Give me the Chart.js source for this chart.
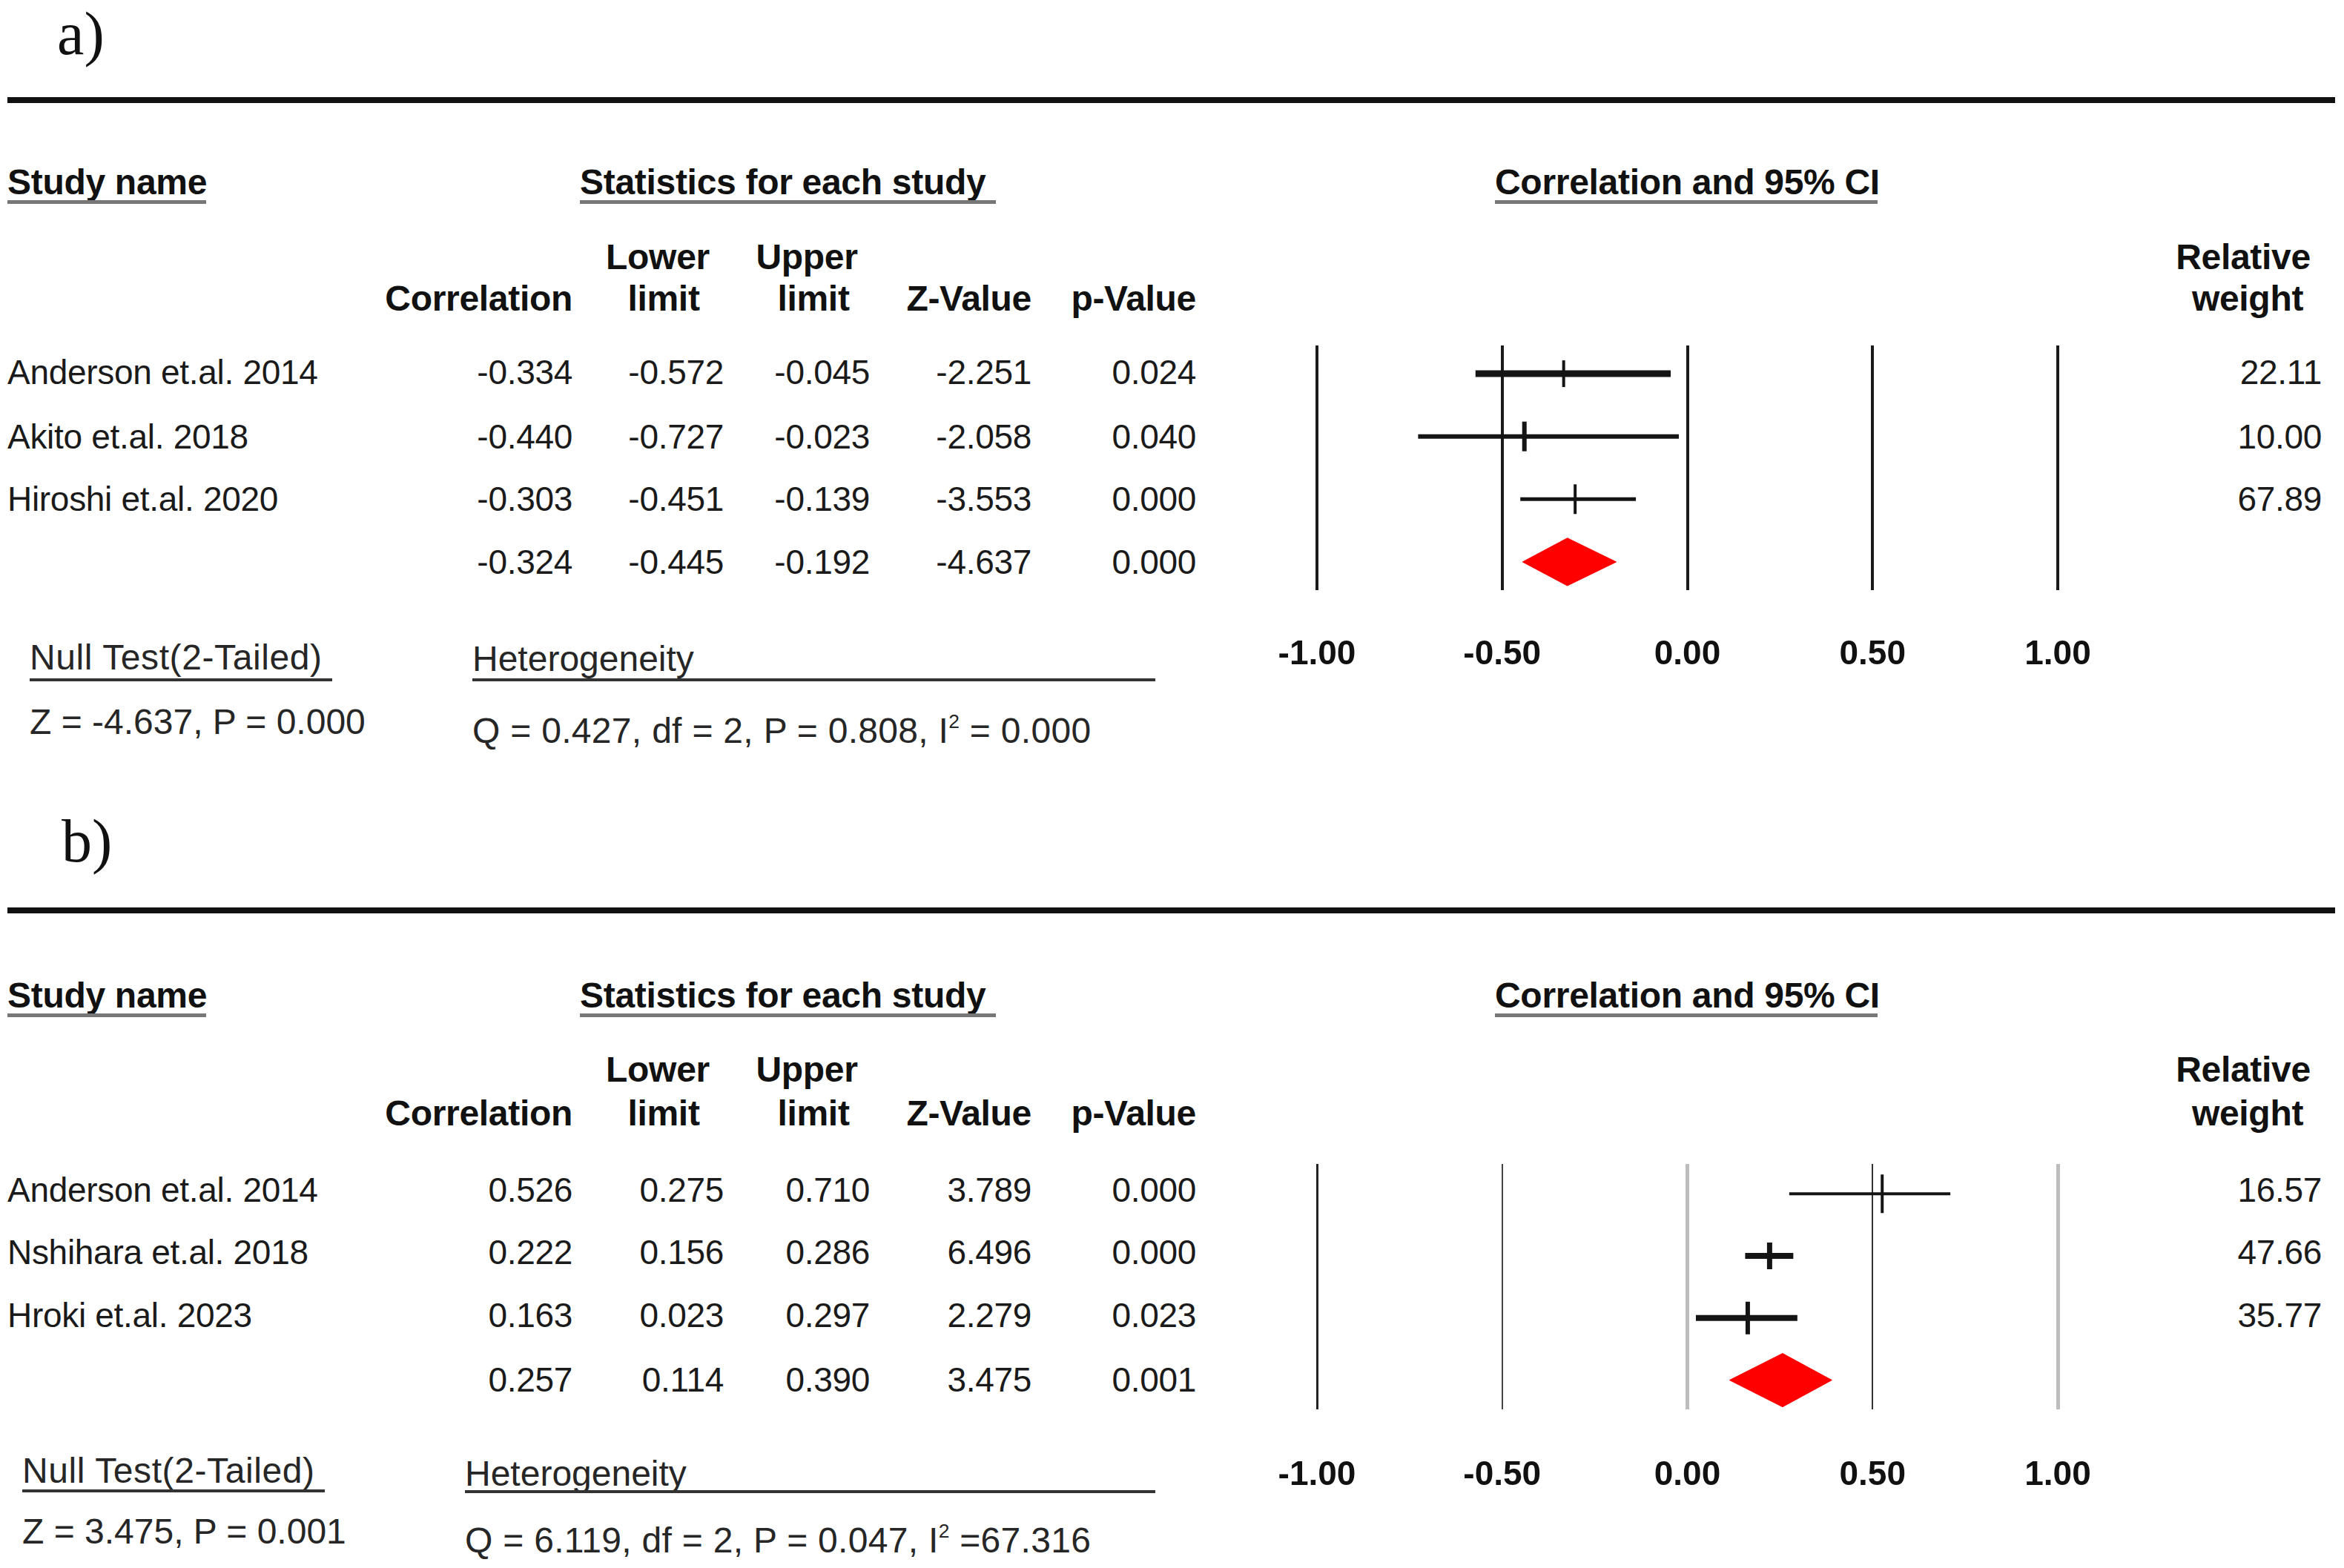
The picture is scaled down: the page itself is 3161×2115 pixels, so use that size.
<!DOCTYPE html>
<html>
<head>
<meta charset="utf-8">
<script src="https://cdn.jsdelivr.net/npm/chart.js@4.4.1/dist/chart.umd.min.js"></script>
<style>
html,body{margin:0;padding:0;background:#fff;}
#page{position:relative;width:3161px;height:2115px;overflow:hidden;background:#fff;}
.t{position:absolute;white-space:nowrap;line-height:1;font-family:"Liberation Sans",Arial,sans-serif;color:#111;}
.t sup{font-size:55%;vertical-align:0;position:relative;top:-0.75em;}
.rule{position:absolute;}
canvas{position:absolute;}
</style>
</head>
<body>
<div id="page"></div>
<script>
// ---------------- DATA ----------------
const tickValues = [-1, -0.5, 0, 0.5, 1];

// Panel a
const studiesA = ["Anderson et.al. 2014", "Akito et.al. 2018", "Hiroshi et.al. 2020", ""];
const corrA  = [-0.334, -0.440, -0.303, -0.324];
const lowerA = [-0.572, -0.727, -0.451, -0.445];
const upperA = [-0.045, -0.023, -0.139, -0.192];
const zA     = [-2.251, -2.058, -3.553, -4.637];
const pA     = [0.024, 0.040, 0.000, 0.000];
const weightA = [22.11, 10.00, 67.89];
const nullTestA = "Z = -4.637, P = 0.000";
const heteroA = "Q = 0.427, df = 2, P = 0.808, I<sup>2</sup> = 0.000";

// Panel b
const studiesB = ["Anderson et.al. 2014", "Nshihara et.al. 2018", "Hroki et.al. 2023", ""];
const corrB  = [0.526, 0.222, 0.163, 0.257];
const lowerB = [0.275, 0.156, 0.023, 0.114];
const upperB = [0.710, 0.286, 0.297, 0.390];
const zB     = [3.789, 6.496, 2.279, 3.475];
const pB     = [0.000, 0.000, 0.023, 0.001];
const weightB = [16.57, 47.66, 35.77];
const nullTestB = "Z = 3.475, P = 0.001";
const heteroB = "Q = 6.119, df = 2, P = 0.047, I<sup>2</sup> =67.316";

// ---------------- LAYOUT / STYLE ----------------
const SANS = '"Liberation Sans", Arial, sans-serif';
const page = document.getElementById('page');

function txt(html, x, y, align, opt) {
  opt = opt || {};
  const d = document.createElement('div');
  d.className = 't';
  d.innerHTML = html;
  d.style.left = x + 'px';
  d.style.top = y + 'px';
  d.style.fontSize = (opt.size || 46) + 'px';
  if (opt.bold) d.style.fontWeight = 'bold';
  if (opt.family) d.style.fontFamily = opt.family;
  if (opt.color) d.style.color = opt.color;
  if (opt.ls !== undefined) d.style.letterSpacing = opt.ls + 'px';
  const tx = align === 'r' ? '-100%' : (align === 'c' ? '-50%' : '0');
  d.style.transform = 'translate(' + tx + ',-50%)';
  page.appendChild(d);
  return d;
}
function rule(x1, x2, y, th, color) {
  const d = document.createElement('div');
  d.className = 'rule';
  d.style.left = x1 + 'px';
  d.style.width = (x2 - x1) + 'px';
  d.style.top = (y - th / 2) + 'px';
  d.style.height = th + 'px';
  d.style.background = color;
  page.appendChild(d);
}

const COL = { name: 10, corr: 772, lower: 976, upper: 1173, z: 1391, p: 1613, weight: 3131 };

const panelsLayout = [
  { label: 'a)', labelX: 77, labelY: 46, ruleY: 135, headY: 246, ulY: 272, h1Y: 347, h2Y: 403,
    rowsY: [502, 589, 673, 758], canvasTop: 440, plotTop: 464, plotBottom: 796, yMin: -0.45, yMax: 3.45,
    tickPad: 60, nullX: 40, nullY: 887, nullUlY: 917, zY: 974, hetX: 637, hetY: 889, hetUlY: 917, qY: 986,
    barW: [9, 6, 5], mkR: [18, 20, 20], mkW: [4, 6, 4], dh: 0.38,
    gridColor: ['#1a1a1a', '#1a1a1a', '#1a1a1a', '#1a1a1a', '#1a1a1a'], gridW: [4, 4, 4, 4, 4] },
  { label: 'b)', labelX: 83, labelY: 1135, ruleY: 1228, headY: 1343, ulY: 1369, h1Y: 1443, h2Y: 1502,
    rowsY: [1605, 1689, 1774, 1861], canvasTop: 1540, plotTop: 1564, plotBottom: 1901, yMin: -0.48, yMax: 3.47,
    tickPad: 62, nullX: 30, nullY: 1984, nullUlY: 2011, zY: 2066, hetX: 627, hetY: 1988, hetUlY: 2012, qY: 2078,
    barW: [4, 8, 8], mkR: [26, 18, 22], mkW: [4, 7, 6], dh: 0.43,
    gridColor: ['#222', '#444', '#bdbdbd', '#333', '#bdbdbd'], gridW: [3, 2, 5, 2, 5] }
];

const panelData = [
  { studies: studiesA, corr: corrA, lower: lowerA, upper: upperA, z: zA, p: pA, weight: weightA, nullTest: nullTestA, hetero: heteroA },
  { studies: studiesB, corr: corrB, lower: lowerB, upper: upperB, z: zB, p: pB, weight: weightB, nullTest: nullTestB, hetero: heteroB }
];

const CANVAS_LEFT = 1700, CANVAS_W = 1150, CANVAS_H = 500;
const AXIS_LEFT = 1776, AXIS_RIGHT = 2775;

panelsLayout.forEach((L, k) => {
  const D = panelData[k];
  // panel label and top rule
  txt(L.label, L.labelX, L.labelY, 'l', { size: 82, family: '"Liberation Serif", "Times New Roman", serif', color: '#111' });
  rule(10, 3149, L.ruleY, 8, '#111');

  // section headers
  const hb = { size: 48, bold: true, ls: -0.3 };
  txt('Study name', COL.name, L.headY, 'l', hb);
  rule(10, 278, L.ulY, 5, '#777');
  txt('Statistics for each study', 782, L.headY, 'l', hb);
  rule(782, 1343, L.ulY, 5, '#777');
  txt('Correlation and 95% CI', 2016, L.headY, 'l', hb);
  rule(2016, 2532, L.ulY, 5, '#777');

  // column headers
  txt('Lower', 887, L.h1Y, 'c', hb);
  txt('Upper', 1088, L.h1Y, 'c', hb);
  txt('Relative', 3025, L.h1Y, 'c', hb);
  txt('Correlation', COL.corr, L.h2Y, 'r', hb);
  txt('limit', 895, L.h2Y, 'c', hb);
  txt('limit', 1097, L.h2Y, 'c', hb);
  txt('Z-Value', COL.z, L.h2Y, 'r', hb);
  txt('p-Value', COL.p, L.h2Y, 'r', hb);
  txt('weight', 3031, L.h2Y, 'c', hb);

  // table rows
  const rb = { size: 46, ls: -0.3, color: '#1a1a1a' };
  D.corr.forEach((c, i) => {
    const y = L.rowsY[i];
    if (D.studies[i]) txt(D.studies[i], COL.name, y, 'l', rb);
    txt(c.toFixed(3), COL.corr, y, 'r', rb);
    txt(D.lower[i].toFixed(3), COL.lower, y, 'r', rb);
    txt(D.upper[i].toFixed(3), COL.upper, y, 'r', rb);
    txt(D.z[i].toFixed(3), COL.z, y, 'r', rb);
    txt(D.p[i].toFixed(3), COL.p, y, 'r', rb);
    if (i < D.weight.length) txt(D.weight[i].toFixed(2), COL.weight, y, 'r', rb);
  });

  // bottom notes
  const nb = { size: 48, color: '#262626' };
  txt('Null Test(2-Tailed)', L.nullX, L.nullY, 'l', { size: 48, color: '#262626', ls: 0.6 });
  rule(L.nullX, L.nullX + 408, L.nullUlY, 4, '#333');
  txt(D.nullTest, L.nullX, L.zY, 'l', nb);
  txt('Heterogeneity', L.hetX, L.hetY, 'l', nb);
  rule(L.hetX, 1558, L.hetUlY, 4, '#333');
  txt(D.hetero, L.hetX, L.qY, 'l', { size: 48, color: '#262626', ls: 0.3 });

  // ---------------- CHART ----------------
  const cv = document.createElement('canvas');
  cv.width = CANVAS_W; cv.height = CANVAS_H;
  cv.style.left = CANVAS_LEFT + 'px';
  cv.style.top = L.canvasTop + 'px';
  cv.style.width = CANVAS_W + 'px';
  cv.style.height = CANVAS_H + 'px';
  page.appendChild(cv);

  const nStudies = D.weight.length;
  const datasets = [];
  // diamond for pooled estimate
  const s = nStudies;
  datasets.push({
    data: [
      { x: D.lower[s], y: s }, { x: D.corr[s], y: s - L.dh },
      { x: D.upper[s], y: s }, { x: D.corr[s], y: s + L.dh }, { x: D.lower[s], y: s }
    ],
    showLine: true, fill: 'shape', tension: 0,
    backgroundColor: '#ff0000', borderColor: '#ff0000', borderWidth: 1, pointRadius: 0
  });
  // CI bars
  for (let i = 0; i < nStudies; i++) {
    datasets.push({
      data: [{ x: D.lower[i], y: i }, { x: D.upper[i], y: i }],
      showLine: true, fill: false, borderColor: '#141414', borderWidth: L.barW[i],
      borderCapStyle: 'butt', pointRadius: 0
    });
  }
  // point estimate markers
  datasets.push({
    data: D.corr.slice(0, nStudies).map((c, i) => ({ x: c, y: i })),
    showLine: false, pointStyle: 'line', pointRotation: 90,
    pointRadius: L.mkR, pointBorderWidth: L.mkW,
    pointBorderColor: '#141414', pointBackgroundColor: '#141414'
  });

  const plotH = L.plotBottom - L.plotTop;
  const axisH = CANVAS_H - (L.plotTop - L.canvasTop) - plotH;

  new Chart(cv, {
    type: 'scatter',
    data: { datasets },
    options: {
      responsive: false, animation: false, devicePixelRatio: 1, events: [],
      layout: { padding: { left: AXIS_LEFT - CANVAS_LEFT, right: CANVAS_LEFT + CANVAS_W - AXIS_RIGHT, top: L.plotTop - L.canvasTop, bottom: 0 } },
      plugins: { legend: { display: false }, tooltip: { enabled: false }, title: { display: false } },
      scales: {
        x: {
          type: 'linear', min: -1, max: 1,
          afterBuildTicks: sc => { sc.ticks = tickValues.map(v => ({ value: v })); },
          afterFit: sc => { sc.height = axisH; },
          ticks: {
            callback: v => Number(v).toFixed(2), autoSkip: false, maxRotation: 0,
            padding: 0, color: '#111',
            font: { family: SANS, size: 46, weight: 'bold' }
          },
          grid: {
            drawTicks: true, tickLength: L.tickPad, tickColor: 'rgba(0,0,0,0)', drawOnChartArea: true,
            color: c => L.gridColor[tickValues.indexOf(c.tick ? c.tick.value : 0)] || '#222',
            lineWidth: c => L.gridW[tickValues.indexOf(c.tick ? c.tick.value : 0)] || 3
          },
          border: { display: false }
        },
        y: { type: 'linear', min: L.yMin, max: L.yMax, reverse: true, display: false }
      }
    }
  });
});
</script>
</body>
</html>
